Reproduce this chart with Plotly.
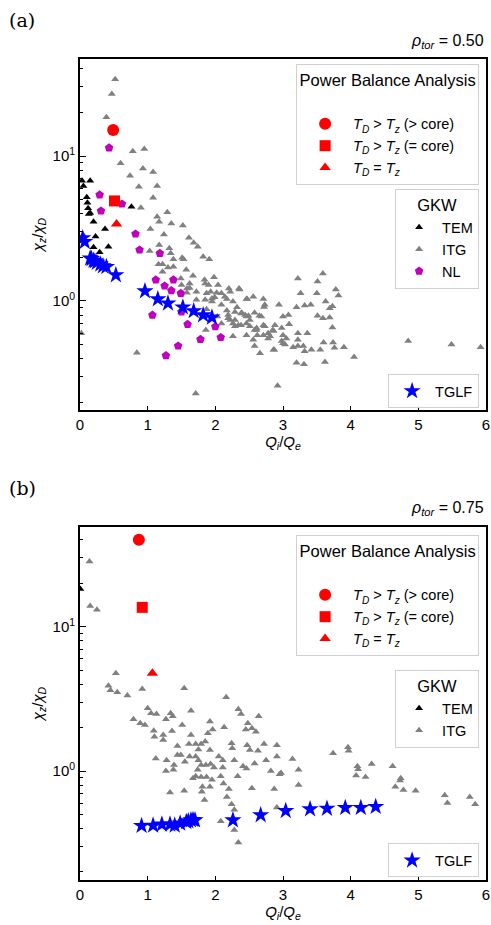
import math
import plotly.graph_objects as go

# ---------------- Panel (a): rho_tor = 0.50 ----------------
itg_a_x = [0.52, 0.47, 0.39, 0.78, 0.95, 0.60, 0.93, 1.08, 0.74, 0.87, 1.14, 1.08, 0.90, 1.14, 1.29,
           1.17, 1.35, 1.04, 1.52, 1.24, 1.61, 1.68, 1.74, 1.17, 1.32, 1.03, 1.34, 1.51, 1.82, 1.91,
           1.38, 1.16, 1.22, 1.30, 1.38, 1.57, 1.22, 1.49, 1.67, 1.84, 1.98, 1.50, 1.62, 1.90, 2.04,
           2.20, 2.35, 1.93, 2.09, 1.58, 1.99, 1.85, 1.72, 1.95, 2.17, 2.26, 2.47, 2.56, 2.71, 2.94,
           2.09, 2.32, 2.72, 1.87, 2.17, 2.38, 2.49, 2.65, 3.00, 2.29, 2.19, 2.09, 2.29, 2.38, 2.51,
           2.73, 2.88, 2.61, 2.78, 2.62, 2.56, 2.26, 1.86, 2.66, 2.87, 3.00, 0.84, 1.71, 2.92, 0.02,
           3.22, 3.59, 3.51, 3.78, 3.82, 3.26, 3.50, 2.36, 2.22, 2.46, 2.73, 3.20, 3.32, 3.41, 3.63,
           3.69, 3.73, 2.44, 2.58, 2.68, 3.08, 3.51, 3.59, 3.69, 2.22, 2.26, 2.46, 2.51, 2.61, 2.71,
           2.85, 2.98, 3.09, 3.73, 2.46, 2.81, 3.00, 3.22, 3.36, 3.74, 3.60, 3.90, 3.76, 3.55, 3.42,
           3.32, 3.30, 3.22, 3.15, 3.03, 3.05, 2.86, 2.58, 3.20, 3.31, 3.62, 4.05, 4.85, 5.49, 5.92,
           1.53, 1.85, 1.62, 1.58, 1.72, 1.87, 2.02, 1.95, 2.14, 2.19, 2.29, 2.39, 2.46, 2.34, 2.58,
           2.71, 2.78, 2.86, 2.98, 3.22, 2.03]
itg_a_y = [33.8, 26.8, 18.5, 10.8, 11.2, 8.9, 8.2, 7.76, 7.3, 6.14, 6.2, 5.16, 4.4, 3.81, 4.09,
           3.52, 3.43, 3.14, 3.31, 2.88, 2.73, 2.52, 2.37, 2.43, 2.31, 2.21, 2.13, 1.99, 2.02, 1.94,
           1.94, 1.79, 1.79, 1.70, 1.72, 1.64, 1.59, 1.43, 1.49, 1.40, 1.46, 1.29, 1.23, 1.29, 1.29,
           1.22, 1.22, 1.16, 1.13, 1.14, 1.06, 1.02, 1.02, 0.99, 1.03, 0.99, 1.03, 1.07, 1.03, 0.94,
           0.94, 0.905, 0.91, 0.876, 0.86, 0.82, 0.79, 0.79, 0.78, 0.74, 0.76, 0.70, 0.67, 0.68, 0.67,
           0.67, 0.68, 0.63, 0.60, 0.58, 0.54, 0.57, 0.63, 0.435, 0.46, 0.51, 0.44, 0.23, 0.26, 0.60,
           1.43, 1.55, 1.36, 1.20, 1.09, 1.13, 1.13, 1.20, 1.16, 1.03, 0.94, 0.905, 0.93, 0.94, 0.99,
           0.89, 0.92, 0.80, 0.83, 0.78, 0.80, 0.79, 0.76, 0.77, 0.74, 0.70, 0.70, 0.74, 0.65, 0.68,
           0.63, 0.65, 0.69, 0.655, 0.58, 0.57, 0.58, 0.60, 0.60, 0.516, 0.516, 0.48, 0.476, 0.46, 0.46,
           0.45, 0.49, 0.49, 0.48, 0.50, 0.55, 0.46, 0.49, 0.375, 0.366, 0.38, 0.41, 0.53, 0.50, 0.48,
           1.94, 1.32, 1.32, 1.22, 1.16, 1.13, 1.14, 1.04, 1.07, 0.80, 0.84, 0.83, 0.78, 0.68, 0.63,
           0.58, 0.55, 0.62, 0.53, 0.54, 0.78]

tem_a_x = [0.03, 0.15, 0.05, 0.10, 0.11, 0.12, 0.13, 0.20, 0.37, 0.76, 0.23, 0.42, 0.20, 0.29, 0.15]
tem_a_y = [6.76, 6.76, 6.2, 5.19, 4.76, 4.36, 3.98, 3.52, 3.14, 4.47, 2.78, 2.37, 2.35, 2.17, 4.05]

nl_a_x = [0.43, 0.29, 0.62, 0.31, 0.82, 0.88, 1.18, 1.12, 1.38, 1.25, 1.35, 1.49, 1.07, 1.50,
          1.59, 2.00, 1.78, 2.08, 1.45, 1.27]
nl_a_y = [11.4, 5.4, 4.67, 4.18, 2.9, 2.25, 2.13, 1.40, 1.40, 1.27, 1.18, 1.13, 0.80, 0.84,
          0.69, 0.665, 0.544, 0.56, 0.49, 0.42]

tglf_a_x = [0.04, 0.07, 0.15, 0.17, 0.20, 0.22, 0.25, 0.30, 0.34, 0.39, 0.53, 0.96, 1.15, 1.30,
            1.52, 1.68, 1.82, 1.95]
tglf_a_y = [2.72, 2.56, 1.97, 1.95, 1.90, 1.88, 1.84, 1.79, 1.74, 1.72, 1.51, 1.17, 1.03, 0.964,
            0.905, 0.853, 0.80, 0.77]

pb_a_x = [0.49, 0.51, 0.54]
pb_a_y = [15.1, 4.9, 3.4]

# ---------------- Panel (b): rho_tor = 0.75 ----------------
itg_b_x = [0.14, 0.15, 0.25, 0.53, 0.42, 0.45, 0.55, 0.70, 0.92, 1.54, 2.16,
           0.79, 0.89, 0.96, 1.00, 1.05, 1.13, 1.27, 1.34, 1.37, 1.64, 1.51, 1.09, 1.10, 1.23,
           1.23, 1.36, 1.64, 1.44, 1.61, 1.71, 1.79, 1.75, 1.85, 1.92, 1.96, 1.89, 2.13, 2.34,
           2.38, 2.64, 2.48, 2.45, 2.54, 2.60, 2.24, 2.25, 2.28, 2.11, 2.05, 1.92, 1.98, 2.11,
           2.33, 2.47, 2.51, 2.63, 2.72, 2.91, 2.91, 2.75, 2.58, 2.41, 2.46, 2.82, 2.97, 2.54,
           2.87, 2.91, 2.17, 2.24, 2.28, 2.08, 2.28, 2.34, 2.20, 2.12, 2.08, 1.95, 1.92, 1.81,
           1.84, 1.80, 1.54, 1.33, 1.67, 1.71, 1.79, 1.74, 1.79, 1.75, 1.71, 1.62, 1.49, 1.55,
           1.39, 1.38, 1.27, 1.28, 1.12, 1.44, 1.86, 1.87, 1.93,
           2.95, 3.14, 3.23, 3.23, 3.74, 3.96, 3.97, 4.10, 4.11, 4.08, 4.22, 4.31, 4.62, 4.74,
           4.73, 4.66, 4.78, 4.96, 5.39, 5.43, 5.76, 5.84]
itg_b_y = [28.2, 13.9, 13.1, 4.75, 3.9, 3.62, 3.51, 3.33, 3.70, 3.74, 3.24,
           2.28, 2.14, 2.08, 2.72, 2.51, 2.48, 2.28, 2.51, 2.40, 2.62, 2.08, 1.90, 1.73, 1.78,
           1.64, 1.89, 1.78, 1.49, 1.54, 1.54, 1.54, 1.41, 1.60, 2.20, 1.94, 1.83, 2.01, 2.68,
           2.48, 2.40, 2.14, 1.94, 1.98, 1.87, 1.56, 1.44, 1.19, 1.19, 1.26, 1.40, 1.06, 1.06,
           0.92, 1.51, 1.40, 1.38, 1.54, 1.51, 1.26, 1.19, 1.13, 1.08, 1.04, 1.00, 0.97, 0.76,
           0.75, 0.56, 0.66, 0.59, 0.54, 0.45, 0.39, 0.32, 0.75, 0.82, 0.92, 0.87, 0.78, 0.78,
           0.63, 0.72, 0.73, 0.71, 0.89, 0.92, 0.91, 1.02, 1.10, 1.19, 1.26, 1.26, 1.29, 1.16,
           1.10, 1.02, 1.00, 1.19, 1.22, 1.29, 1.10, 0.91, 1.12,
           0.95, 1.21, 1.02, 0.80, 1.33, 1.46, 1.38, 1.08, 1.03, 0.93, 0.91, 1.12, 1.08, 0.89,
           0.86, 0.78, 0.74, 0.73, 0.68, 0.60, 0.66, 0.59]

tem_b_x = [0.005]
tem_b_y = [18.2]

tglf_b_x = [0.91, 1.08, 1.21, 1.33, 1.40, 1.48, 1.57, 1.60, 1.64, 1.67, 1.70, 2.26, 2.67,
            3.04, 3.40, 3.65, 3.92, 4.15, 4.37]
tglf_b_y = [0.418, 0.42, 0.427, 0.427, 0.42, 0.434, 0.445, 0.45, 0.457, 0.46, 0.457, 0.457, 0.496,
            0.53, 0.545, 0.55, 0.557, 0.557, 0.566]

pb_b_x = [0.87, 0.92, 1.07]
pb_b_y = [39.9, 13.6, 4.75]

pb_labels = ["<i>T</i><sub><i>D</i></sub> &gt; <i>T</i><sub><i>z</i></sub> (&gt; core)",
             "<i>T</i><sub><i>D</i></sub> &gt; <i>T</i><sub><i>z</i></sub> (= core)",
             "<i>T</i><sub><i>D</i></sub> = <i>T</i><sub><i>z</i></sub>"]
pb_symbols = ["circle", "square", "triangle-up"]
pb_sizes = [12, 11, 10]

FONT = "Liberation Sans, Arial, sans-serif"
GRAY = "#808080"
MAG = "#BF00BF"

fig = go.Figure()


def add(x, y, name, symbol, color, size, legend, xa, ya):
    fig.add_trace(go.Scatter(
        x=x, y=y, mode="markers", name=name, legend=legend,
        marker=dict(symbol=symbol, color=color, size=size, line=dict(width=0)),
        xaxis=xa, yaxis=ya, cliponaxis=True, showlegend=True))


# panel (a)
add(itg_a_x, itg_a_y, "ITG", "triangle-up", GRAY, 7, "legend2", "x", "y")
add(tem_a_x, tem_a_y, "TEM", "triangle-up", "black", 7, "legend2", "x", "y")
add(nl_a_x, nl_a_y, "NL", "pentagon", MAG, 9, "legend2", "x", "y")
add(tglf_a_x, tglf_a_y, "TGLF", "star", "blue", 13, "legend3", "x", "y")
for i in range(3):
    add([pb_a_x[i]], [pb_a_y[i]], pb_labels[i], pb_symbols[i], "red", pb_sizes[i], "legend", "x", "y")

# panel (b)
add(itg_b_x, itg_b_y, "ITG", "triangle-up", GRAY, 7, "legend5", "x2", "y2")
add(tem_b_x, tem_b_y, "TEM", "triangle-up", "black", 7, "legend5", "x2", "y2")
add(tglf_b_x, tglf_b_y, "TGLF", "star", "blue", 13, "legend6", "x2", "y2")
for i in range(3):
    add([pb_b_x[i]], [pb_b_y[i]], pb_labels[i], pb_symbols[i], "red", pb_sizes[i], "legend4", "x2", "y2")

# legend order: TEM before ITG
fig.data[0].legendrank = 2
fig.data[1].legendrank = 1
fig.data[2].legendrank = 3
fig.data[7].legendrank = 2
fig.data[8].legendrank = 1

minor_vals = [0.2, 0.3, 0.4, 0.5, 0.6, 0.7, 0.8, 0.9, 2, 3, 4, 5, 6, 7, 8, 9, 20, 30, 40]

xt = dict(range=[0, 6], dtick=1, showline=True, linecolor="black", linewidth=1.8, mirror=True,
          ticks="inside", ticklen=4, tickcolor="black", showgrid=False, zeroline=False,
          tickfont=dict(family=FONT, size=15, color="black"),
          title=dict(text="<i>Q</i><sub><i>i</i></sub>/<i>Q</i><sub><i>e</i></sub>",
                     font=dict(family=FONT, size=15, color="black"), standoff=2))
yt = dict(type="log", showline=True, linecolor="black", linewidth=1.8, mirror=True,
          ticks="inside", ticklen=6, tickcolor="black", showgrid=False, zeroline=False,
          tickvals=[1, 10], ticktext=["10<sup>0</sup>", "10<sup>1</sup>"],
          tickfont=dict(family=FONT, size=15, color="black"),
          minor=dict(tickmode="array", tickvals=minor_vals, ticks="inside", ticklen=3,
                     tickcolor="black", showgrid=False),
          title=dict(text="<i>χ</i><sub><i>z</i></sub>/<i>χ</i><sub><i>D</i></sub>",
                     font=dict(family=FONT, size=15, color="black"), standoff=5))

fig.update_layout(
    width=491, height=925, autosize=False,
    margin=dict(l=80, r=5, t=59, b=45, autoexpand=False),
    paper_bgcolor="white", plot_bgcolor="white",
    font=dict(family=FONT, size=14, color="black"),
    xaxis=dict(xt, domain=[0, 1], anchor="y"),
    yaxis=dict(yt, domain=[0.5725, 1], anchor="x",
               range=[math.log10(0.177), math.log10(46.7)]),
    xaxis2=dict(xt, domain=[0, 1], anchor="y2"),
    yaxis2=dict(yt, domain=[0, 0.43], anchor="x2",
                range=[math.log10(0.176), math.log10(49)]),
)

leg_common = dict(bgcolor="rgba(255,255,255,0.85)", bordercolor="#d0d0d0", borderwidth=1,
                  font=dict(family=FONT, size=14.5, color="black"), xanchor="right", yanchor="top",
                  xref="paper", yref="paper", traceorder="normal", tracegroupgap=0)
title_font = dict(family=FONT, size=16.5, color="black")

fig.update_layout(
    legend=dict(leg_common, x=0.983, y=0.9939, itemwidth=46,
                title=dict(text="Power Balance Analysis<br> ", side="top center", font=title_font)),
    legend2=dict(leg_common, x=0.983, y=0.8417, itemwidth=36,
                 title=dict(text="GKW", side="top center", font=title_font)),
    legend3=dict(leg_common, x=0.983, y=0.5956, yanchor="middle", itemwidth=36),
    legend4=dict(leg_common, x=0.983, y=0.4202, itemwidth=46,
                 title=dict(text="Power Balance Analysis<br> ", side="top center", font=title_font)),
    legend5=dict(leg_common, x=0.983, y=0.2558, itemwidth=36,
                 title=dict(text="GKW", side="top center", font=title_font)),
    legend6=dict(leg_common, x=0.983, y=0.0238, yanchor="middle", itemwidth=36),
)

SERIF = "DejaVu Serif, Liberation Serif, serif"
fig.add_annotation(text="(a)", xref="paper", yref="paper", x=-0.18, y=1.0475,
                   xanchor="left", yanchor="middle", showarrow=False,
                   font=dict(family=SERIF, size=19, color="black"))
fig.add_annotation(text="(b)", xref="paper", yref="paper", x=-0.18, y=0.4775,
                   xanchor="left", yanchor="middle", showarrow=False,
                   font=dict(family=SERIF, size=19, color="black"))
fig.add_annotation(text="<i>ρ</i><sub><i>tor</i></sub> = 0.50", xref="paper", yref="paper",
                   x=1.0, y=1.0219, xanchor="right", yanchor="middle", showarrow=False,
                   font=dict(family=FONT, size=16, color="black"))
fig.add_annotation(text="<i>ρ</i><sub><i>tor</i></sub> = 0.75", xref="paper", yref="paper",
                   x=1.0, y=0.4519, xanchor="right", yanchor="middle", showarrow=False,
                   font=dict(family=FONT, size=16, color="black"))

fig.write_html("out.html")
